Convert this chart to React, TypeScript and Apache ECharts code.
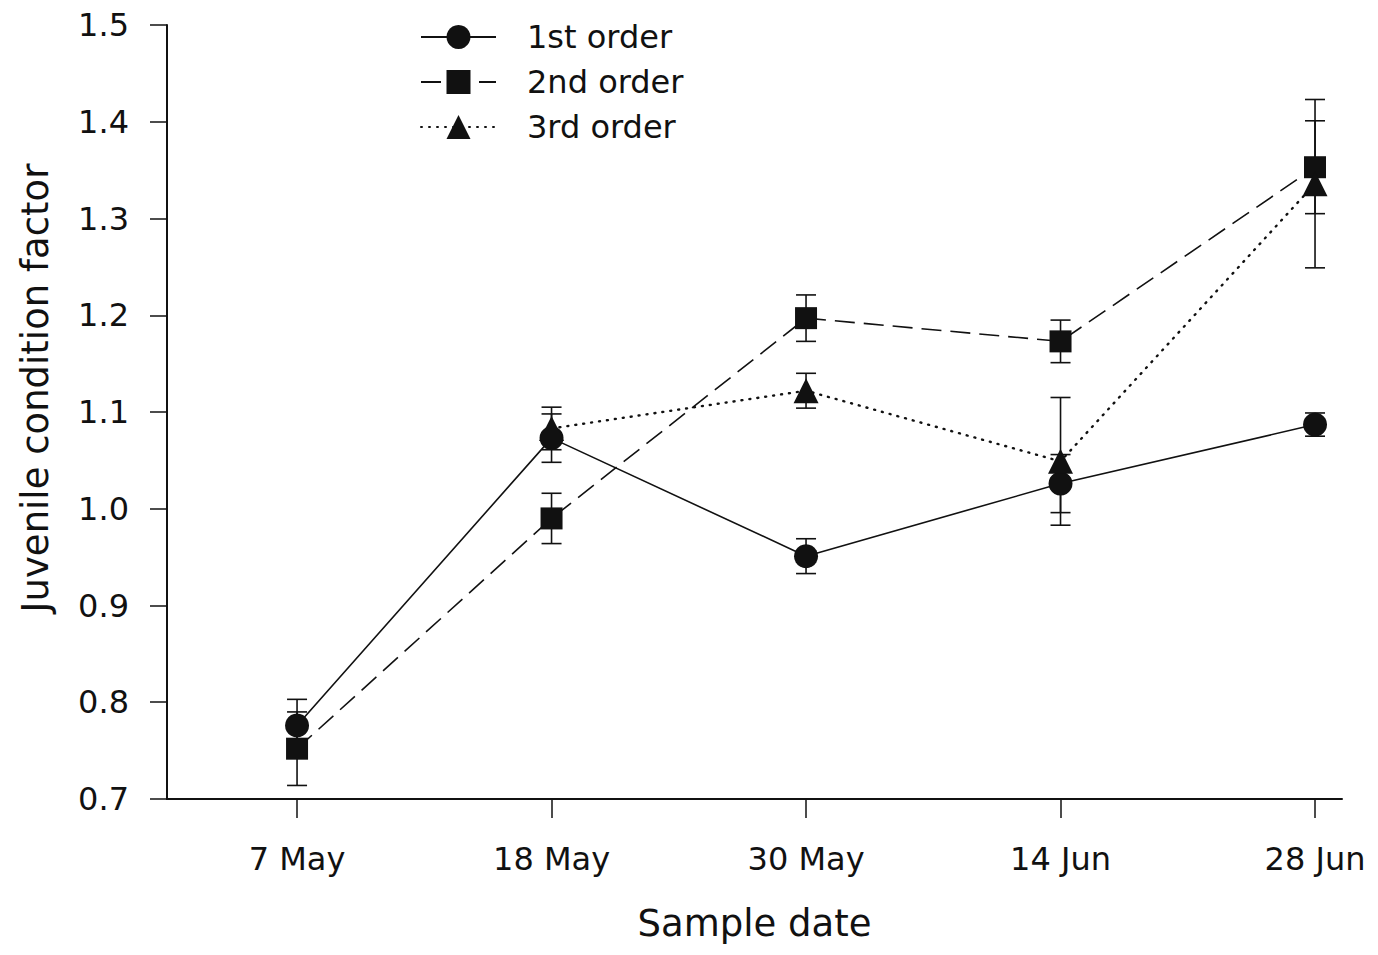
import React, { useEffect, useRef } from 'react';
import * as echarts from 'echarts';

const categories = ['7 May', '18 May', '30 May', '14 Jun', '28 Jun'];
const seriesNames = ['1st order', '2nd order', '3rd order'];
const first = [0.776, 1.073, 0.951, 1.026, 1.087];
const firstErr = [0.027, 0.025, 0.018, 0.03, 0.012];
const second = [0.752, 0.99, 1.197, 1.173, 1.353];
const secondErr = [0.038, 0.026, 0.024, 0.022, 0.048];
const third: (number | null)[] = [null, 1.083, 1.122, 1.049, 1.336];
const thirdErr: (number | null)[] = [null, 0.022, 0.018, 0.066, 0.087];
const yTickValues = [0.7, 0.8, 0.9, 1.0, 1.1, 1.2, 1.3, 1.4, 1.5];

const INK = '#111';
const FONT = 'DejaVu Sans';

function pts(vals: (number | null)[]) {
  const out: number[][] = [];
  vals.forEach((v, i) => {
    if (v !== null) out.push([i, v]);
  });
  return out;
}

function errPts(vals: (number | null)[], errs: (number | null)[]) {
  const out: number[][] = [];
  vals.forEach((v, i) => {
    const e = errs[i];
    if (v !== null && e !== null) out.push([i, v, e]);
  });
  return out;
}

export default function App() {
  const ref = useRef<HTMLDivElement>(null);
  useEffect(() => {
    if (!ref.current) return;
    const chart = echarts.init(ref.current, undefined, { renderer: 'svg' });
    const errData = [
      ...errPts(first, firstErr),
      ...errPts(second, secondErr),
      ...errPts(third, thirdErr),
    ];
    const option: any = {
      animation: false,
      backgroundColor: '#fff',
      grid: { left: 167, top: 25, width: 1175, height: 774, containLabel: false },
      legend: {
        data: seriesNames,
        orient: 'vertical',
        left: 415,
        top: 16,
        itemWidth: 75,
        itemHeight: 30,
        itemGap: 13,
        textStyle: { fontSize: 32, fontFamily: FONT, color: INK, padding: [0, 0, 0, 26] },
      },
      graphic: [
        {
          type: 'text',
          x: 35,
          y: 388,
          rotation: Math.PI / 2,
          style: {
            text: 'Juvenile condition factor',
            fontSize: 37,
            fontFamily: FONT,
            fill: INK,
            textAlign: 'center',
            textVerticalAlign: 'middle',
          },
        },
      ],
      xAxis: {
        type: 'value',
        min: -0.511,
        max: 4.106,
        name: 'Sample date',
        nameLocation: 'middle',
        nameGap: 106,
        nameTextStyle: { fontSize: 37, fontFamily: FONT, color: INK },
        axisLine: { show: true, onZero: false, lineStyle: { color: INK, width: 2 } },
        axisTick: {
          show: true,
          length: 19,
          lineStyle: { color: INK, width: 1.5 },
          customValues: [0, 1, 2, 3, 4],
        },
        axisLabel: {
          customValues: [0, 1, 2, 3, 4],
          formatter: (v: number) => categories[Math.round(v)] ?? '',
          fontSize: 32,
          fontFamily: FONT,
          color: INK,
          margin: 44,
        },
        splitLine: { show: false },
      },
      yAxis: {
        type: 'value',
        min: 0.7,
        max: 1.5,
        interval: 0.1,
        axisLine: { show: true, onZero: false, lineStyle: { color: INK, width: 2 } },
        axisTick: {
          show: true,
          length: 17,
          lineStyle: { color: INK, width: 1.5 },
          customValues: yTickValues,
        },
        axisLabel: {
          customValues: yTickValues,
          formatter: (v: number) => v.toFixed(1),
          fontSize: 32,
          fontFamily: FONT,
          color: INK,
          margin: 38,
        },
        splitLine: { show: false },
      },
      series: [
        {
          name: 'errors',
          type: 'custom',
          z: 1,
          data: errData,
          encode: { x: 0, y: 1 },
          renderItem: (params: any, api: any) => {
            const x = api.value(0);
            const y = api.value(1);
            const e = api.value(2);
            const top = api.coord([x, y + e]);
            const bot = api.coord([x, y - e]);
            const hw = 10;
            const style = { stroke: INK, lineWidth: 1.6 };
            return {
              type: 'group',
              children: [
                { type: 'line', shape: { x1: top[0], y1: top[1], x2: bot[0], y2: bot[1] }, style },
                { type: 'line', shape: { x1: top[0] - hw, y1: top[1], x2: top[0] + hw, y2: top[1] }, style },
                { type: 'line', shape: { x1: bot[0] - hw, y1: bot[1], x2: bot[0] + hw, y2: bot[1] }, style },
              ],
            };
          },
        },
        {
          name: seriesNames[0],
          type: 'line',
          z: 3,
          data: pts(first),
          symbol: 'circle',
          symbolSize: 24,
          itemStyle: { color: INK, borderWidth: 0 },
          lineStyle: { color: INK, width: 1.6, type: 'solid' },
        },
        {
          name: seriesNames[1],
          type: 'line',
          z: 3,
          data: pts(second),
          symbol: 'rect',
          symbolSize: 22,
          itemStyle: { color: INK, borderWidth: 0 },
          lineStyle: { color: INK, width: 1.6, type: [20, 9] },
        },
        {
          name: seriesNames[2],
          type: 'line',
          z: 3,
          data: pts(third),
          symbol: 'triangle',
          symbolSize: 25,
          itemStyle: { color: INK, borderWidth: 0 },
          lineStyle: { color: INK, width: 2.4, type: [1, 7], cap: 'round' },
        },
      ],
    };
    chart.setOption(option);
    return () => chart.dispose();
  }, []);
  return (
    <div
      ref={ref}
      style={{ position: 'absolute', left: 0, top: 0, width: 1378, height: 955, background: '#fff' }}
    />
  );
}
